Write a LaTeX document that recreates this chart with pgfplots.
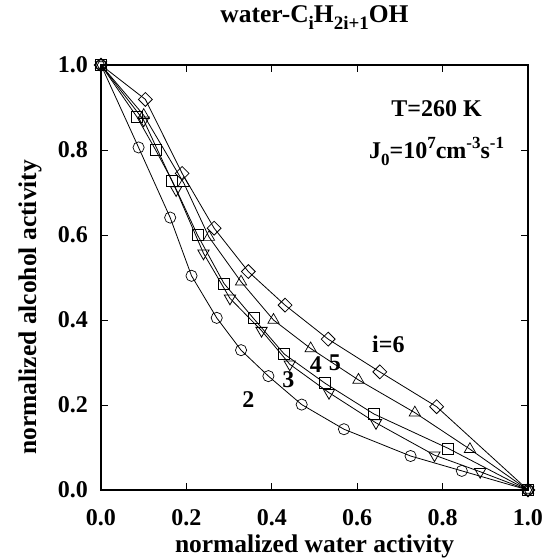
\documentclass[border=0pt]{standalone}
\usepackage{pgfplots}
\pgfplotsset{compat=1.18}
\usepackage{fontspec}
\setmainfont{Liberation Serif}
\newcommand{\bigb}{\fontsize{24}{28}\selectfont\bfseries}
\newcommand{\labb}{\fontsize{25.5}{30}\selectfont\bfseries}
\newcommand{\tsub}[1]{\raisebox{-0.3em}{\fontsize{19}{19}\selectfont #1}}
\newcommand{\jsub}[1]{\raisebox{-0.28em}{\fontsize{17}{17}\selectfont #1}}
\newcommand{\jsup}[1]{\raisebox{0.42em}{\fontsize{17}{17}\selectfont #1}}
\begin{document}
\begin{tikzpicture}
\begin{axis}[
  at={(0,0)}, anchor=south west,
  scale only axis, width=427pt, height=425pt,
  xmin=0, xmax=1, ymin=0, ymax=1,
  xtick={0,0.2,0.4,0.6,0.8,1.0},
  ytick={0,0.2,0.4,0.6,0.8,1.0},
  xticklabels={0.0,0.2,0.4,0.6,0.8,1.0},
  yticklabels={0.0,0.2,0.4,0.6,0.8,1.0},
  tick align=inside, major tick length=7pt,
  tick style={black, line width=0.8pt},
  axis line style={line width=1.1pt},
  tick label style={font=\bigb, inner sep=0pt},
  xticklabel style={anchor=base, yshift=-35pt},
  yticklabel style={anchor=east, xshift=-13pt},
  xlabel={normalized water activity},
  ylabel={normalized alcohol activity},
  xlabel style={font=\labb, at={(axis description cs:0.5,0)}, anchor=base, yshift=-62pt},
  ylabel style={font=\labb, at={(axis description cs:-0.152,0.43)}, anchor=base},
  title={water-C\tsub{i}H\tsub{2i+1}OH},
  title style={font=\labb, at={(axis description cs:0.5,1)}, anchor=base, yshift=37pt},
  clip=false,
  every axis plot/.append style={black, line width=0.8pt, mark options={fill=white, solid, line width=0.7pt}},
]
% i=2 circles
\addplot[mark=o, mark size=5.6pt] coordinates {
(0,1) (0.088,0.806) (0.162,0.641) (0.212,0.504) (0.271,0.405) (0.328,0.329)
(0.392,0.268) (0.470,0.201) (0.569,0.143) (0.725,0.080) (0.845,0.045) (1,0)};
% squares
\addplot[mark=square, mark size=5.5pt] coordinates {
(0,1) (0.084,0.878) (0.128,0.800) (0.167,0.727) (0.226,0.600) (0.288,0.486)
(0.357,0.404) (0.429,0.320) (0.525,0.251) (0.639,0.179) (0.813,0.098) (1,0)};
% down triangles
\addplot[mark=triangle, mark size=6.5pt, mark options={rotate=180}] coordinates {
(0,1) (0.100,0.870) (0.176,0.706) (0.240,0.557) (0.302,0.451) (0.376,0.375)
(0.442,0.296) (0.534,0.229) (0.644,0.158) (0.781,0.082) (0.888,0.043) (1,0)};
% up triangles
\addplot[mark=triangle, mark size=6.5pt] coordinates {
(0,1) (0.100,0.882) (0.194,0.722) (0.253,0.595) (0.328,0.490) (0.404,0.400)
(0.491,0.333) (0.603,0.259) (0.735,0.182) (0.864,0.096) (1,0)};
% diamonds
\addplot[mark=square, mark size=4.9pt, mark options={rotate=45}] coordinates {
(0,1) (0.104,0.919) (0.190,0.745) (0.265,0.616) (0.345,0.514) (0.431,0.435)
(0.532,0.355) (0.653,0.278) (0.786,0.196) (1,0)};
\node[font=\bigb] at (axis cs:0.345,0.212) {2};
\node[font=\bigb] at (axis cs:0.439,0.259) {3};
\node[font=\bigb] at (axis cs:0.503,0.294) {4};
\node[font=\bigb] at (axis cs:0.548,0.300) {5};
\node[font=\bigb] at (axis cs:0.673,0.344) {i=6};
\node[font=\bigb] at (axis cs:0.786,0.898) {T=260 K};
\node[font=\bigb] at (axis cs:0.786,0.796) {J\jsub{0}=10\jsup{7}cm\jsup{-3}s\jsup{-1}};
\end{axis}
\pgfresetboundingbox
\path[use as bounding box] (-101pt,-68pt) rectangle (446pt,490pt);
\end{tikzpicture}
\end{document}
